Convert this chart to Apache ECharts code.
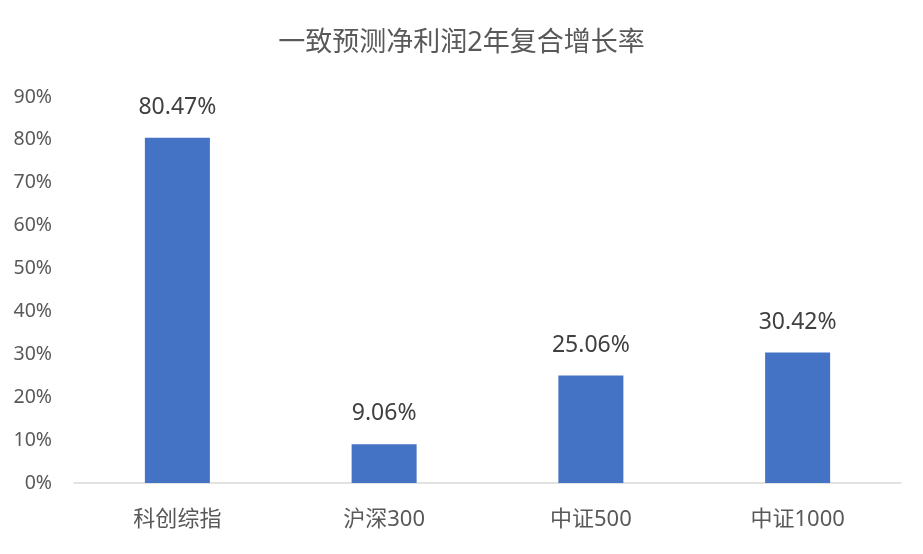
<!DOCTYPE html>
<html><head><meta charset="utf-8">
<script src="https://cdn.jsdelivr.net/npm/echarts@6/dist/echarts.min.js"></script>
<style>html,body{margin:0;padding:0;background:#fff}#c{width:923px;height:554px}</style>
</head><body><div id="c"></div>
<script>
const title = '一致预测净利润2年复合增长率';
const categories = ['科创综指', '沪深300', '中证500', '中证1000'];
const values = [80.47, 9.06, 25.06, 30.42];
const yTicks = [0, 10, 20, 30, 40, 50, 60, 70, 80, 90];

const font = '"Noto Sans", "Noto Sans CJK SC", sans-serif';
const chart = echarts.init(document.getElementById('c'));
chart.setOption({
  animation: false,
  title: {
    text: title, left: 'center', top: 25,
    textStyle: { fontFamily: font, fontSize: 27, fontWeight: 'normal', color: '#595959' }
  },
  grid: { left: 74, right: 22, top: 97, bottom: 71, containLabel: false },
  xAxis: {
    type: 'category', data: categories,
    axisLine: { lineStyle: { color: '#d9d9d9', width: 1.5 } },
    axisTick: { show: false },
    axisLabel: { fontFamily: font, fontSize: 22, color: '#595959', margin: 26 }
  },
  yAxis: {
    type: 'value', min: yTicks[0], max: yTicks[yTicks.length - 1], interval: 10,
    splitLine: { show: false },
    axisLine: { show: false }, axisTick: { show: false },
    axisLabel: { fontFamily: font, fontSize: 19.5, color: '#595959', margin: 22, formatter: v => v + '%' }
  },
  series: [{
    type: 'bar', data: values, barWidth: 65,
    itemStyle: { color: '#4472C4' },
    label: {
      show: true, position: 'top', distance: 19,
      fontFamily: font, fontSize: 23, color: '#404040',
      formatter: p => p.value.toFixed(2) + '%'
    }
  }]
});
</script></body></html>
